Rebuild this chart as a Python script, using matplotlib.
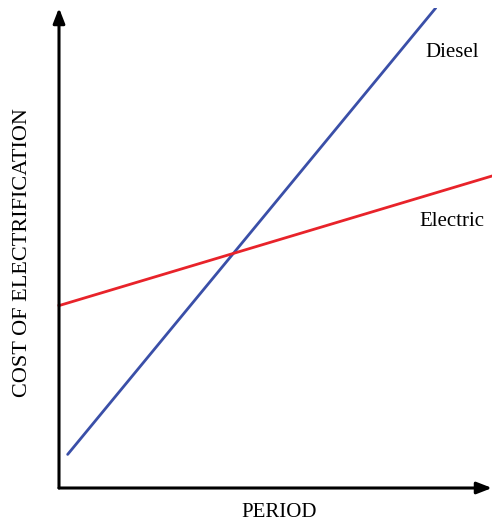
import matplotlib.pyplot as plt

# line end points (period, cost)
diesel_x = [0.2, 8.7]
diesel_y = [0.7, 10.0]
electric_x = [0.0, 10.0]
electric_y = [3.8, 6.5]

plt.rcParams['font.family'] = ['Liberation Serif', 'DejaVu Serif']

fig = plt.figure(figsize=(4.92, 5.25), dpi=100)
ax = fig.add_axes([59 / 492, 37 / 525, 433 / 492, 480 / 525])
ax.set_xlim(0, 10)
ax.set_ylim(0, 10)

ax.plot(diesel_x, diesel_y, color='#3a4fa8', lw=2.0, solid_capstyle='round')
ax.plot(electric_x, electric_y, color='#e8232a', lw=2.0, clip_on=False)

# axes with arrow heads
arrow = dict(arrowstyle='-|>,head_length=0.9,head_width=0.35', color='black',
             lw=2.2, shrinkA=0, shrinkB=0)
ax.annotate('', xy=(0, 10), xytext=(0, 0), arrowprops=arrow, annotation_clip=False)
ax.annotate('', xy=(10, 0), xytext=(0, 0), arrowprops=arrow, annotation_clip=False)

ax.text(8.45, 9.08, 'Diesel', fontsize=15, va='center', ha='left')
ax.text(8.33, 5.55, 'Electric', fontsize=15, va='center', ha='left')

for s in ax.spines.values():
    s.set_visible(False)
ax.set_xticks([])
ax.set_yticks([])
ax.set_xlabel('PERIOD', fontsize=15)
ax.xaxis.set_label_coords(0.509, -0.031)
ax.set_ylabel('COST OF ELECTRIFICATION', fontsize=16)
ax.yaxis.set_label_coords(-0.062, 0.49)

fig.savefig('out.png', dpi=100)
